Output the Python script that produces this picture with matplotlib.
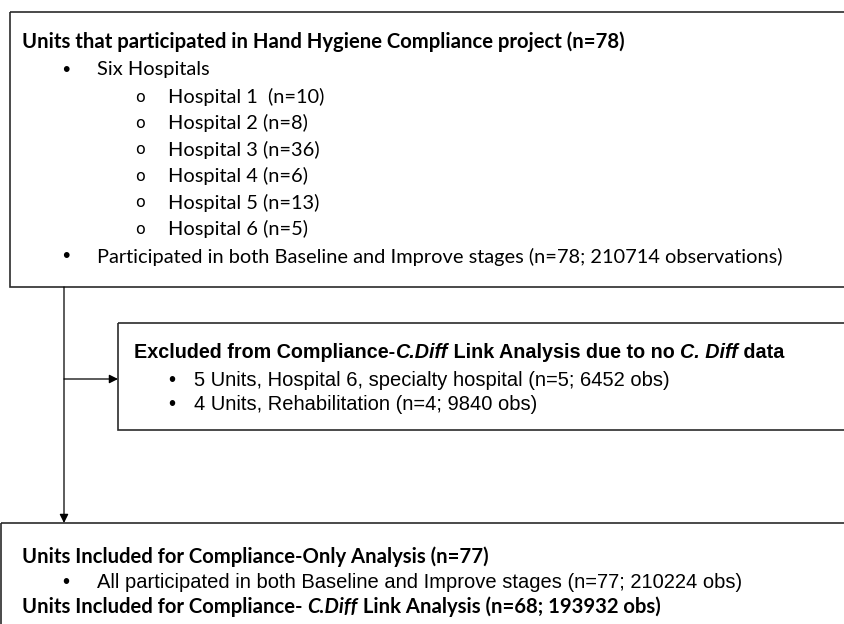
import matplotlib.pyplot as plt
from matplotlib.patches import Rectangle

# text content of the flow chart
top_title = "Units that participated in Hand Hygiene Compliance project (n=78)"
top_bullet = "Six Hospitals"
hospitals = ["Hospital 1 ", "Hospital 2", "Hospital 3", "Hospital 4", "Hospital 5", "Hospital 6"]
hospital_n = [10, 8, 36, 6, 13, 5]
top_last = "Participated in both Baseline and Improve stages (n=78; 210714 observations)"

excl_title = [("Excluded from Compliance-", "normal"), ("C.Diff", "italic"),
              (" Link Analysis due to no ", "normal"), ("C. Diff", "italic"), (" data", "normal")]
excl_items = ["5 Units, Hospital 6, specialty hospital (n=5; 6452 obs)",
              "4 Units, Rehabilitation (n=4; 9840 obs)"]

incl_title = "Units Included for Compliance-Only Analysis (n=77)"
incl_item = "All participated in both Baseline and Improve stages (n=77; 210224 obs)"
link_title = [("Units Included for Compliance- ", "normal"), ("C.Diff", "italic"),
              (" Link Analysis (n=68; 193932 obs)", "normal")]

CAL = "Lato"              # stand-in for Calibri
ARI = "Liberation Sans"   # metric match for Arial
EDGE = "#2b2b2b"


def fit_size(ax, text, family, weight, width_px):
    """font size that makes `text` about width_px wide"""
    t = ax.text(0, 0, text, family=family, size=10, weight=weight)
    w = t.get_window_extent(ax.figure.canvas.get_renderer()).width
    t.remove()
    return 10 * width_px / w


def chain(ax, x, y, parts, family, size):
    prev = ax.text(x, y, parts[0][0], family=family, size=size, weight="bold",
                   style=parts[0][1], va="center", ha="left")
    for txt, st in parts[1:]:
        prev = ax.annotate(txt, xy=(1, 0), xycoords=prev, va="bottom", ha="left",
                           family=family, size=size, weight="bold", style=st)


fig = plt.figure(figsize=(8.44, 6.24), dpi=100)
ax = fig.add_axes([0, 0, 1, 1])
ax.set_xlim(0, 844)
ax.set_ylim(624, 0)
ax.axis("off")

fs = fit_size(ax, top_last, CAL, "normal", 688)
fsb = fit_size(ax, top_title, CAL, "bold", 603)
afs = 14.5

# boxes
ax.add_patch(Rectangle((10, 12), 900, 275, fill=False, ec=EDGE, lw=1.2))
ax.add_patch(Rectangle((118, 323), 800, 107, fill=False, ec=EDGE, lw=1.2))
ax.add_patch(Rectangle((1, 523), 900, 200, fill=False, ec=EDGE, lw=1.2))

# top box text
ax.text(22, 42, top_title, family=CAL, size=fsb, weight="bold", va="center")
ax.text(66, 70, "\u2022", family=ARI, size=fs + 1, va="center", ha="center")
ax.text(97, 70, top_bullet, family=CAL, size=fs, va="center")
for i, (h, n) in enumerate(zip(hospitals, hospital_n)):
    y = 97 + i * 26.4
    ax.text(140, y, "o", family="DejaVu Sans", size=11.5, va="center", ha="center")
    ax.text(168, y, f"{h} (n={n})", family=CAL, size=fs, va="center")
ax.text(66, 257, "\u2022", family=ARI, size=fs + 1, va="center", ha="center")
ax.text(97, 257, top_last, family=CAL, size=fs, va="center")

# connectors
arrow = dict(arrowstyle="-|>", color="black", lw=0.9, mutation_scale=13,
             shrinkA=0, shrinkB=0)
ax.annotate("", xy=(64, 523), xytext=(64, 287), arrowprops=arrow)
ax.annotate("", xy=(118, 379), xytext=(64, 379), arrowprops=arrow)

# excluded box
chain(ax, 134, 353, excl_title, ARI, 14.2)
for i, item in enumerate(excl_items):
    y = 381 + i * 23
    ax.text(172, y, "\u2022", family=ARI, size=afs, va="center", ha="center")
    ax.text(194, y, item, family=ARI, size=afs, va="center")

# included box
ax.text(22, 557, incl_title, family=CAL, size=fsb, weight="bold", va="center")
ax.text(66, 583, "\u2022", family=ARI, size=afs, va="center", ha="center")
ax.text(97, 583, incl_item, family=ARI, size=afs, va="center")
chain(ax, 22, 607, link_title, CAL, fsb)

fig.savefig("out.png", dpi=100)
